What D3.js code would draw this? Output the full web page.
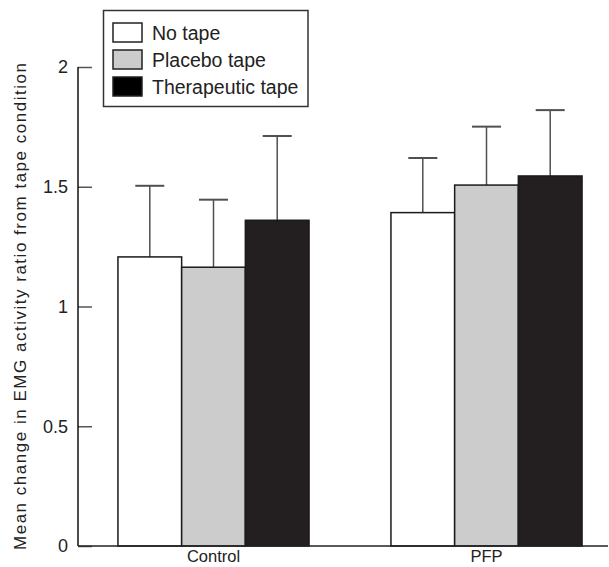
<!DOCTYPE html>
<html>
<head>
<meta charset="utf-8">
<script src="https://cdn.jsdelivr.net/npm/d3@7"></script>
<style>
  body { margin: 0; background: #fff; }
  svg { display: block; font-family: "Liberation Sans", Arial, sans-serif; }
</style>
</head>
<body>
<div id="chart"></div>
<script>
// Data
const groups = ['Control', 'PFP'];
const series = ['No tape', 'Placebo tape', 'Therapeutic tape'];
const means = [
  [1.207, 1.164, 1.36],   // Control
  [1.392, 1.507, 1.545]   // PFP
];
const upperErr = [
  [1.504, 1.446, 1.712],
  [1.62, 1.751, 1.82]
];
const yTicks = [0, 0.5, 1, 1.5, 2];
const fills = ['#ffffff', '#cccccc', '#231f20'];

const width = 609;
const height = 567;

const svg = d3.select('#chart').append('svg')
  .attr('width', width)
  .attr('height', height);

// Scales
const y = d3.scaleLinear().domain([0, 2]).range([546, 67]);
const x0 = d3.scaleBand()
  .domain(groups)
  .range([77, 623])
  .paddingInner(0.3)
  .paddingOuter(0.15);
const x1 = d3.scaleBand()
  .domain(series)
  .range([0, x0.bandwidth()]);

// Rows for bars
const rows = [];
groups.forEach((g, gi) => {
  series.forEach((s, si) => {
    rows.push({ group: g, series: s, si, value: means[gi][si], upper: upperErr[gi][si] });
  });
});

// Error bars (behind the bars)
const capHalf = 14.5;
const err = svg.append('g').attr('stroke', '#505050');
err.selectAll('line.stem')
  .data(rows)
  .join('line')
  .attr('class', 'stem')
  .attr('x1', d => x0(d.group) + x1(d.series) + x1.bandwidth() / 2)
  .attr('x2', d => x0(d.group) + x1(d.series) + x1.bandwidth() / 2)
  .attr('y1', d => y(d.value))
  .attr('y2', d => y(d.upper))
  .attr('stroke-width', 1.5);
err.selectAll('line.cap')
  .data(rows)
  .join('line')
  .attr('class', 'cap')
  .attr('x1', d => x0(d.group) + x1(d.series) + x1.bandwidth() / 2 - capHalf)
  .attr('x2', d => x0(d.group) + x1(d.series) + x1.bandwidth() / 2 + capHalf)
  .attr('y1', d => y(d.upper))
  .attr('y2', d => y(d.upper))
  .attr('stroke-width', 2);

// Bars
svg.append('g')
  .selectAll('rect')
  .data(rows)
  .join('rect')
  .attr('x', d => x0(d.group) + x1(d.series))
  .attr('y', d => y(d.value))
  .attr('width', x1.bandwidth())
  .attr('height', d => y(0) - y(d.value))
  .attr('fill', d => fills[d.si])
  .attr('stroke', '#1a1a1a')
  .attr('stroke-width', 1.5);

// Y axis
const yAxis = svg.append('g')
  .attr('transform', 'translate(78,0)')
  .call(d3.axisLeft(y).tickValues(yTicks).tickFormat(d3.format('')).tickSize(-14).tickPadding(10));
yAxis.select('.domain').remove();
yAxis.selectAll('.tick line').attr('stroke', '#555').attr('stroke-width', 1.5);
yAxis.selectAll('.tick text')
  .attr('font-size', '18px')
  .attr('fill', '#222')
  .attr('font-family', '"Liberation Sans", Arial, sans-serif');

svg.append('line')
  .attr('x1', 78).attr('x2', 78)
  .attr('y1', y(2)).attr('y2', y(0))
  .attr('stroke', '#111').attr('stroke-width', 1.5);

// X axis
svg.append('line')
  .attr('x1', 78).attr('x2', 608)
  .attr('y1', y(0)).attr('y2', y(0))
  .attr('stroke', '#222').attr('stroke-width', 1.5);

svg.append('g')
  .selectAll('text')
  .data(groups)
  .join('text')
  .attr('x', d => x0(d) + x0.bandwidth() / 2)
  .attr('y', 562)
  .attr('text-anchor', 'middle')
  .attr('font-size', '16.5px')
  .attr('fill', '#222')
  .text(d => d);

// Y axis title
svg.append('text')
  .attr('transform', `translate(26,${(y(0) + y(2)) / 2}) rotate(-90)`)
  .attr('text-anchor', 'middle')
  .attr('font-size', '17px')
  .attr('textLength', 487)
  .attr('lengthAdjust', 'spacing')
  .attr('fill', '#222')
  .text('Mean change in EMG activity ratio from tape condition');

// Legend
const legend = svg.append('g');
legend.append('rect')
  .attr('x', 103.5).attr('y', 10.5)
  .attr('width', 204.5).attr('height', 96)
  .attr('fill', '#fff')
  .attr('stroke', '#333').attr('stroke-width', 1.5);

const item = legend.selectAll('g.item')
  .data(series)
  .join('g')
  .attr('class', 'item')
  .attr('transform', (d, i) => `translate(113,${23 + i * 27})`);
item.append('rect')
  .attr('width', 29).attr('height', 19)
  .attr('fill', (d, i) => i === 2 ? '#000' : fills[i])
  .attr('stroke', '#222').attr('stroke-width', 1.5);
item.append('text')
  .attr('x', 39)
  .attr('y', 17)
  .attr('font-size', '19.5px')
  .attr('fill', '#222')
  .text(d => d);
</script>
</body>
</html>
